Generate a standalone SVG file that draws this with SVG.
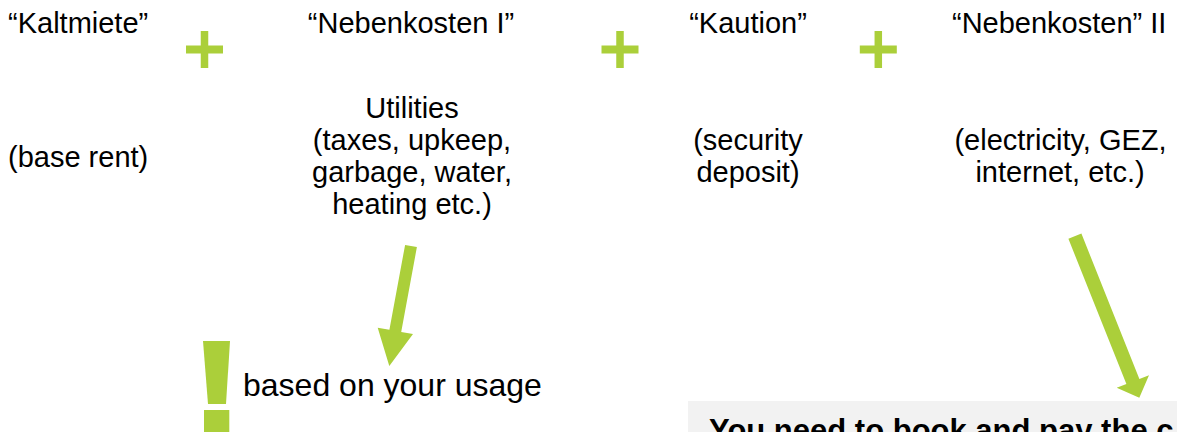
<svg xmlns="http://www.w3.org/2000/svg" width="1177" height="432" viewBox="0 0 1177 432">
  <style>
    text { font-family: "Liberation Sans", Arial, sans-serif; fill: #000; }
    .t { font-size: 29px; }
    .c { text-anchor: middle; }
    .big { font-size: 32px; }
    .bold { font-size: 31px; font-weight: bold; }
    .green { fill: #abcf3a; }
  </style>
  <defs>
    <g id="plus">
      <rect x="-18.5" y="-4" width="37" height="8" class="green"/>
      <rect x="-3.75" y="-18.5" width="7.5" height="37" class="green"/>
    </g>
  </defs>
  <rect width="1177" height="432" fill="#ffffff"/>

  <g id="kaltmiete">
    <text class="t" x="8" y="33">“Kaltmiete”</text>
    <text class="t" x="8" y="167">(base rent)</text>
  </g>

  <g id="nebenkosten1">
    <text class="t c" x="411" y="33">“Nebenkosten I”</text>
    <text class="t c" x="412" y="118">Utilities</text>
    <text class="t c" x="412" y="150">(taxes, upkeep,</text>
    <text class="t c" x="412" y="182">garbage, water,</text>
    <text class="t c" x="412" y="213.5">heating etc.)</text>
  </g>

  <g id="kaution">
    <text class="t c" x="748" y="33">“Kaution”</text>
    <text class="t c" x="748" y="150">(security</text>
    <text class="t c" x="748" y="182">deposit)</text>
  </g>

  <g id="nebenkosten2">
    <text class="t" x="952" y="33">“Nebenkosten” II</text>
    <text class="t c" x="1060.5" y="150">(electricity, GEZ,</text>
    <text class="t c" x="1060" y="182">internet, etc.)</text>
  </g>

  <g id="plus-signs">
    <use href="#plus" x="204.5" y="49.5"/>
    <use href="#plus" x="620" y="49.5"/>
    <use href="#plus" x="878.3" y="49.5"/>
  </g>

  <g id="usage-note">
    <polygon class="green" points="203,341 230,341 226,404 208,404"/>
    <rect class="green" x="204" y="410" width="25.3" height="30"/>
    <text class="big" x="243" y="396">based on your usage</text>
  </g>

  <g id="booking-note">
    <rect x="688" y="401" width="489" height="31" fill="#f2f2f2"/>
    <text class="bold" x="709" y="441">You need to book and pay the c</text>
  </g>

  <g id="connectors">
    <polygon class="green" points="405.1,244.9 416.9,247.1 401.2,332 413,334 389.3,366 377.7,327.7 389.4,329.8"/>
    <polygon class="green" points="1068.4,238.8 1081.4,233.6 1139.4,378.9 1149,375.3 1139.3,397.7 1116.7,387.7 1126.4,384.1"/>
  </g>
</svg>
